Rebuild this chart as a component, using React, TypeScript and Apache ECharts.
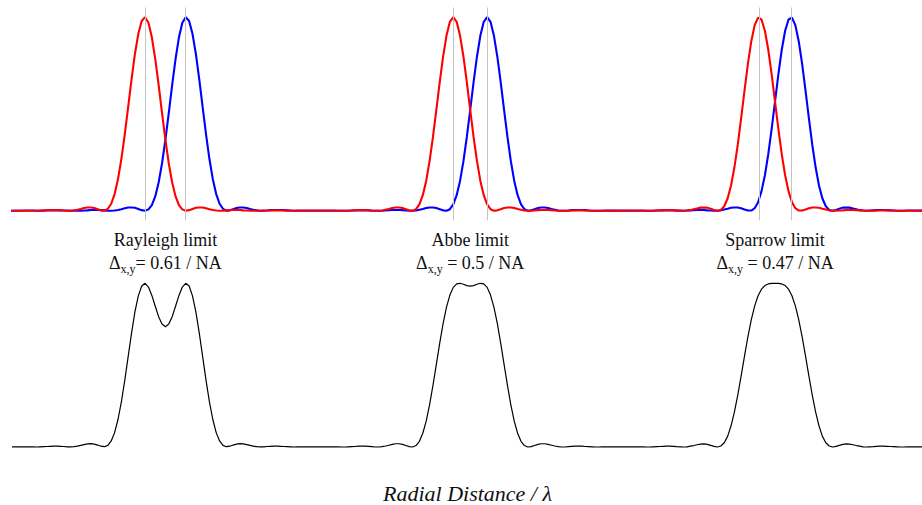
import React, { useEffect, useRef } from "react";
import * as echarts from "echarts";

// Offsets (in λ/NA) from each limit's centre at which the curves are sampled
const offsets = [
  -2, -1.95, -1.9, -1.85, -1.8, -1.75, -1.7, -1.65, -1.6, -1.55, -1.5, -1.45, -1.4, -1.35, -1.3, -1.25, -1.2,
  -1.15, -1.1, -1.05, -1, -0.95, -0.9, -0.85, -0.8, -0.75, -0.7, -0.65, -0.6, -0.55, -0.5, -0.45, -0.4, -0.35,
  -0.3, -0.25, -0.2, -0.15, -0.1, -0.05, 0, 0.05, 0.1, 0.15, 0.2, 0.25, 0.3, 0.35, 0.4, 0.45, 0.5, 0.55, 0.6,
  0.65, 0.7, 0.75, 0.8, 0.85, 0.9, 0.95, 1, 1.05, 1.1, 1.15, 1.2, 1.25, 1.3, 1.35, 1.4, 1.45, 1.5, 1.55, 1.6,
  1.65, 1.7, 1.75, 1.8, 1.85, 1.9, 1.95, 2,
];

const limitNames = ["Rayleigh limit", "Abbe limit", "Sparrow limit"];
const limitFormulas = ["= 0.61 / NA", " = 0.5 / NA", " = 0.47 / NA"];
const limitCenters = [-4.5, 0, 4.5];
const separations = [0.61, 0.5, 0.47];
const axisTitle = "Radial Distance / λ";
const xMin = -6.75;
const xMax = 6.67;

// Intensities (per mille)
const rayleighRed = [
  0, 0, 0, 1, 2, 3, 4, 4, 4, 3, 1, 0, 0, 2, 5, 9, 14, 17, 17, 14,
  8, 2, 0, 10, 36, 86, 163, 267, 394, 535, 679, 810, 914, 980, 1000, 971, 896, 785, 650, 506,
  367, 244, 146, 74, 29, 7, 0, 3, 9, 15, 17, 17, 13, 8, 4, 1, 0, 0, 2, 3,
  4, 4, 4, 2, 1, 0, 0, 0, 0, 1, 1, 1, 2, 1, 1, 1, 0, 0, 0, 1,
  1,
];
const rayleighBlue = [
  1,
  1, 0, 0, 0, 1, 1, 1, 2, 1, 1, 1, 0, 0, 0, 0, 1, 2, 4, 4, 4,
  3, 2, 0, 0, 1, 4, 8, 13, 17, 17, 15, 9, 3, 0, 7, 29, 74, 146, 244, 367,
  506, 650, 785, 896, 971, 1000, 980, 914, 810, 679, 535, 394, 267, 163, 86, 36, 10, 0, 2, 8,
  14, 17, 17, 14, 9, 5, 2, 0, 0, 1, 3, 4, 4, 4, 3, 2, 1, 0, 0, 0,
];
const rayleighSum = [
  1, 1, 0, 1, 2, 3, 4, 5, 5, 4, 3, 1, 1, 2, 5, 10, 15, 19, 21, 18, 12,
  5, 2, 10, 37, 88, 168, 276, 407, 552, 696, 825, 923, 983, 1000, 977, 926, 860, 796, 751,
  735,
  751, 796, 860, 926, 977, 1000, 983, 923, 825, 696, 552, 407, 276, 168, 88, 37, 10, 2, 5,
  12, 18, 21, 19, 15, 10, 5, 2, 1, 1, 3, 4, 5, 5, 4, 3, 2, 1, 0, 1, 1,
];

const abbeRed = [
  1, 0, 0, 0, 0, 1, 3, 4, 4, 4, 3, 1, 0, 0, 1, 5, 9, 14, 17, 17,
  14, 8, 2, 0, 8, 33, 80, 154, 256, 381, 521, 665, 797, 905, 976, 1000, 976, 905, 797, 665,
  521, 381, 256, 154, 80, 33, 8, 0, 2, 8, 14, 17, 17, 14, 9, 5, 1, 0, 0, 1,
  3, 4, 4, 4, 3, 1, 0, 0, 0, 0, 1, 1, 2, 1, 1, 1, 0, 0, 0, 0,
  0,
];
const abbeBlue = [
  0,
  0, 0, 0, 0, 1, 1, 1, 2, 1, 1, 0, 0, 0, 0, 1, 3, 4, 4, 4, 3,
  1, 0, 0, 1, 5, 9, 14, 17, 17, 14, 8, 2, 0, 8, 33, 80, 154, 256, 381, 521,
  665, 797, 905, 976, 1000, 976, 905, 797, 665, 521, 381, 256, 154, 80, 33, 8, 0, 2, 8, 14,
  17, 17, 14, 9, 5, 1, 0, 0, 1, 3, 4, 4, 4, 3, 1, 0, 0, 0, 0, 1,
];
const abbeSum = [
  1, 1, 0, 0, 1, 2, 3, 5, 5, 5, 4, 2, 0, 0, 2, 6, 11, 16, 20, 20, 16,
  9, 2, 0, 9, 35, 84, 158, 257, 376, 505, 635, 755, 854, 928, 975, 996, 1000, 994, 986,
  983,
  986, 994, 1000, 996, 975, 928, 854, 755, 635, 505, 376, 257, 158, 84, 35, 9, 0, 2, 9,
  16, 20, 20, 16, 11, 6, 2, 0, 0, 2, 4, 5, 5, 5, 3, 2, 1, 0, 0, 1, 1,
];

const sparrowRed = [
  1, 1, 0, 0, 0, 1, 2, 3, 4, 4, 3, 2, 1, 0, 1, 3, 8, 12, 16, 17,
  16, 10, 4, 0, 4, 23, 63, 129, 223, 341, 478, 622, 760, 876, 959, 998, 988, 931, 833, 706,
  564, 422, 291, 182, 100, 44, 13, 1, 1, 6, 13, 17, 17, 15, 10, 6, 2, 0, 0, 1,
  2, 4, 4, 4, 3, 2, 1, 0, 0, 0, 1, 1, 2, 2, 1, 1, 0, 0, 0, 0,
  0,
];
const sparrowBlue = [
  0,
  0, 0, 0, 0, 1, 1, 2, 2, 1, 1, 0, 0, 0, 1, 2, 3, 4, 4, 4, 2,
  1, 0, 0, 2, 6, 10, 15, 17, 17, 13, 6, 1, 1, 13, 44, 100, 182, 291, 422, 564,
  706, 833, 931, 988, 998, 959, 876, 760, 622, 478, 341, 223, 129, 63, 23, 4, 0, 4, 10, 16,
  17, 16, 12, 8, 3, 1, 0, 1, 2, 3, 4, 4, 3, 2, 1, 0, 0, 0, 1, 1,
];
const sparrowSum = [
  1, 1, 0, 0, 1, 2, 3, 4, 5, 5, 4, 2, 1, 0, 1, 5, 9, 14, 18, 19, 16,
  10, 4, 0, 6, 26, 65, 128, 213, 317, 435, 557, 674, 778, 862, 924, 964, 986, 996, 999,
  1000,
  999, 996, 986, 964, 924, 862, 778, 674, 557, 435, 317, 213, 128, 65, 26, 6, 0, 4, 10,
  16, 19, 18, 14, 9, 5, 1, 0, 1, 2, 4, 5, 5, 4, 3, 2, 1, 0, 0, 1, 1,
];

const redSets = [rayleighRed, abbeRed, sparrowRed];
const blueSets = [rayleighBlue, abbeBlue, sparrowBlue];
const sumSets = [rayleighSum, abbeSum, sparrowSum];

function buildPoints(sets: number[][]) {
  const pts: number[][] = [[xMin - 0.1, 0]];
  sets.forEach((vals, i) => {
    offsets.forEach((o, k) => pts.push([limitCenters[i] + o, vals[k]]));
  });
  pts.push([xMax + 0.1, 0]);
  return pts;
}

const FONT = "'Liberation Serif', 'Times New Roman', serif";

export default function App() {
  const ref = useRef<HTMLDivElement>(null);
  useEffect(() => {
    document.body.style.margin = "0";
    const chart = echarts.init(ref.current!, undefined, { renderer: "svg" });
    const peakXs: number[] = [];
    limitCenters.forEach((c, i) => {
      peakXs.push(c - separations[i] / 2, c + separations[i] / 2);
    });

    const option: any = {
      animation: false,
      grid: [
        { left: 13, right: 0, top: 7.5, height: 212.9 },
        { left: 13, right: 0, top: 275.1, height: 180.1 },
      ],
      xAxis: [
        { type: "value", gridIndex: 0, min: xMin, max: xMax, show: false },
        { type: "value", gridIndex: 1, min: xMin, max: xMax, show: false },
      ],
      yAxis: [
        { type: "value", gridIndex: 0, min: -50, max: 1050, show: false },
        { type: "value", gridIndex: 1, min: -50, max: 1050, show: false },
      ],
      series: [
        {
          type: "line",
          xAxisIndex: 0,
          yAxisIndex: 0,
          z: 1,
          data: [
            [xMin, -50],
            [xMin, -50],
          ],
          showSymbol: false,
          lineStyle: { opacity: 0 },
          silent: true,
          markLine: {
            silent: true,
            symbol: ["none", "none"],
            label: { show: false },
            lineStyle: { color: "#c4c4c4", width: 1, type: "solid" },
            data: peakXs.map((x) => ({ xAxis: x })),
          },
        },
        {
          type: "line",
          xAxisIndex: 0,
          yAxisIndex: 0,
          z: 2,
          data: buildPoints(blueSets),
          showSymbol: false,
          lineStyle: { color: "#0000ff", width: 2.1 },
          silent: true,
        },
        {
          type: "line",
          xAxisIndex: 0,
          yAxisIndex: 0,
          z: 3,
          data: buildPoints(redSets),
          showSymbol: false,
          lineStyle: { color: "#ff0000", width: 2.1 },
          silent: true,
        },
        {
          type: "line",
          xAxisIndex: 1,
          yAxisIndex: 1,
          z: 2,
          data: buildPoints(sumSets),
          showSymbol: false,
          lineStyle: { color: "#000000", width: 1.2 },
          silent: true,
        },
      ],
    };
    chart.setOption(option);

    const texts: any[] = [];
    limitCenters.forEach((c, i) => {
      const p = chart.convertToPixel({ gridIndex: 0 }, [c, 0]) as number[];
      texts.push({
        type: "text",
        x: p[0],
        y: 240,
        style: {
          text: limitNames[i],
          font: `18px ${FONT}`,
          fill: "#111",
          align: "center",
          verticalAlign: "middle",
        },
      });
      texts.push({
        type: "text",
        x: p[0],
        y: 263,
        style: {
          text: `{d|Δ}{s|x,y}{n|${limitFormulas[i]}}`,
          align: "center",
          verticalAlign: "middle",
          rich: {
            d: { font: `18px ${FONT}`, fill: "#111" },
            s: { font: `12px ${FONT}`, fill: "#111", padding: [11, 0, 0, 0] },
            n: { font: `18px ${FONT}`, fill: "#111" },
          },
        },
      });
    });
    texts.push({
      type: "text",
      x: 467.5,
      y: 493,
      style: {
        text: axisTitle,
        font: `italic 22px ${FONT}`,
        fill: "#111",
        align: "center",
        verticalAlign: "middle",
      },
    });
    chart.setOption({ graphic: texts });
    return () => chart.dispose();
  }, []);
  return <div ref={ref} style={{ width: 922, height: 505 }} />;
}
